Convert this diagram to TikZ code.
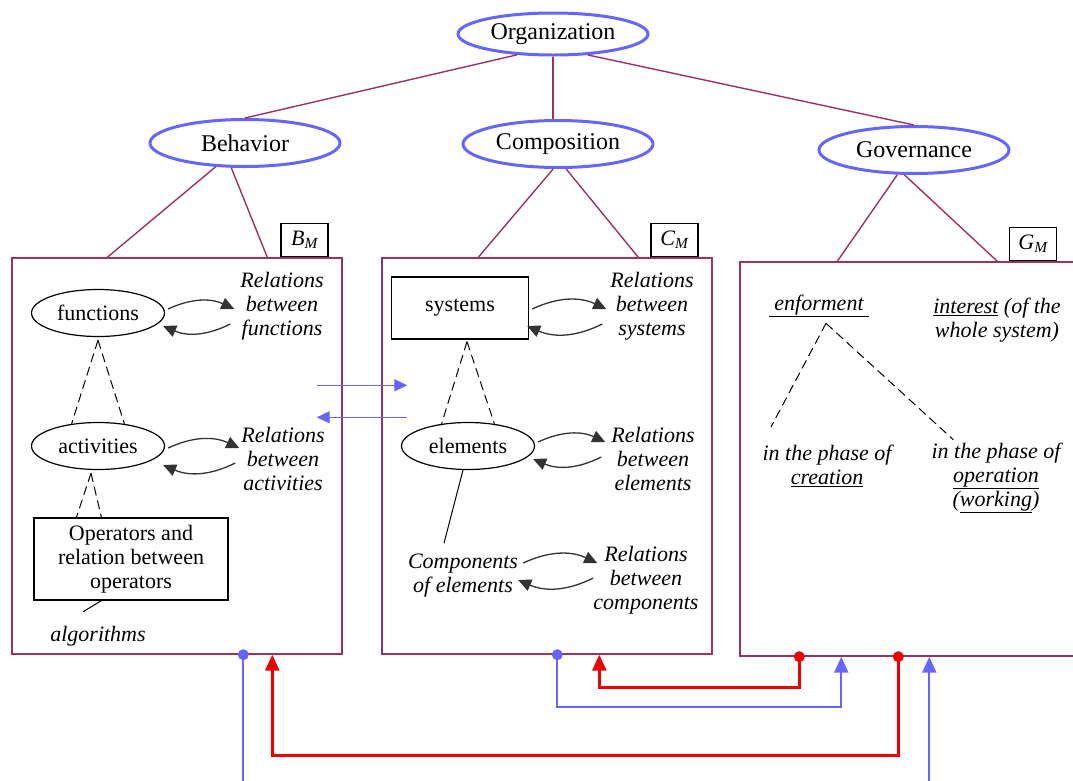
\documentclass[tikz,border=0pt]{standalone}
\usepackage{fontspec}
\setmainfont{Liberation Serif}
\usetikzlibrary{shapes.geometric, arrows.meta, calc, positioning}
\definecolor{topblue}{HTML}{6666FF}
\definecolor{framered}{HTML}{993366}
\definecolor{linkred}{HTML}{EE0000}
\definecolor{darkarrow}{HTML}{333333}
\newcommand{\bigfont}{\fontsize{24}{27}\selectfont}
\newcommand{\midfont}{\fontsize{22}{24}\selectfont}
\tikzset{
	topnode/.style={ellipse, draw=topblue, line width=3pt, minimum width=190pt, minimum height=42pt, inner sep=0pt, font=\bigfont}
}
\tikzset{
	modelframe/.style={draw=framered, line width=1.4pt, inner sep=0pt},
	treeline/.style={draw=framered, line width=1.4pt},
	modeltag/.style={draw, line width=1.5pt, minimum width=47pt, minimum height=33pt, inner sep=0pt, font=\midfont\itshape, anchor=south east}
}
\tikzset{
	itemell/.style={ellipse, draw, line width=1.2pt, minimum width=133pt, minimum height=47pt, inner sep=0pt, font=\midfont},
	itembox/.style={rectangle, draw, line width=1.2pt, inner sep=0pt, font=\midfont, align=center},
	note/.style={align=center, font=\midfont\itshape, inner sep=2pt},
	relarrow/.style={-{Triangle[length=13pt,width=12pt]}, draw=darkarrow, line width=1.3pt},
	partline/.style={dash pattern=on 9pt off 5pt, line width=1pt},
	hairline/.style={line width=1pt},
	flowarrow/.style={-{Triangle[length=13pt,width=12pt]}, draw=topblue, line width=1.3pt},
	flowblue/.style={draw=topblue, line width=2pt},
	flowred/.style={draw=linkred, line width=2.5pt},
	flowtip/.style={-{Triangle[length=16pt,width=14pt]}}
}
\newcommand{\relpair}[4]{%
  \draw[relarrow] ($(#1.east)+(3,#3)$) to[bend left=25] ($(#2.west |- #1.east)+(#4,#3)$);
  \draw[relarrow] ($(#2.west |- #1.east)+(#4-4,#3+15)$) to[bend left=25] ($(#1.east)+(-2,#3+17)$);}

\begin{document}
\begin{tikzpicture}[x=1pt, y=-1pt]
  \useasboundingbox (0,0) rectangle (1073,780);
  \node[topnode] (org) at (553,34) {Organization};
  \foreach \n/\t/\x/\y in {beh/Behavior/245/143, comp/Composition/558/144, gov/Governance/914/150}
    \node[topnode, minimum height=47pt] (\n) at (\x,\y) {\t};

  \node[modelframe, minimum width=330pt, minimum height=396pt] (bframe) at (177,456) {};
  \node[modelframe, minimum width=330pt, minimum height=396pt] (cframe) at (547,456) {};
  \node[modelframe, minimum width=370pt, minimum height=394pt] (gframe) at (925,459) {};

  \draw[treeline] (org.210) -- (beh.north);
  \draw[treeline] (org.south) -- (org.south |- comp.north);
  \draw[treeline] (org.-31) -- (gov.north);
  \foreach \s/\a/\f/\d in {beh/219/bframe/96, beh/241/bframe/256, comp/259/cframe/97, comp/288/cframe/257, gov/236/gframe/98, gov/249/gframe/258}
    \draw[treeline] (\s.\a) -- ($(\f.north west)+(\d,0)$);

  \node[modeltag] (btag) at ($(bframe.north east)+(-14,0)$) {B\textsubscript{M}};
  \node[modeltag] (ctag) at ($(cframe.north east)+(-14,0)$) {C\textsubscript{M}};
  \node[modeltag] (gtag) at ($(gframe.north west)+(318,0)$) {G\textsubscript{M}};

  \node[itemell] (func) at (98,313) {functions};
  \node[itemell] (act) at (98,446) {activities};
  \node[itembox, minimum width=194pt, minimum height=82pt] (ops) at (131,559) {Operators and\\relation between\\operators};
  \node[note] (alg) at (98,636) {algorithms};
  \node[note] (fnote) at (282,306) {Relations\\between\\functions};
  \node[note] (anote) at (283,459) {Relations\\between\\activities};

  \node[itembox, minimum width=137pt, minimum height=62pt] (sys) at (460,308) {systems};
  \node[itemell] (elem) at (468,446) {elements};
  \node[note] (comps) at (463,576) {Components\\of elements};
  \node[note] (snote) at (652,306) {Relations\\between\\systems};
  \node[note] (enote) at (653,459) {Relations\\between\\elements};
  \node[note] (cnote) at (646,580) {Relations\\between\\components};

  \node[note] (enf) at (819,306) {\underline{\ enforment\ }};
  \node[note] (inter) at (997,320) {\underline{interest} (of the\\whole system)};
  \node[note] (create) at (827,466) {in the phase of\\\underline{creation}};
  \node[note] (oper) at (996,478) {in the phase of\\\underline{operation}\\(\underline{working})};

  \draw[partline] ($(func.south)+(0,3)$) -- (act.140);
  \draw[partline] ($(func.south)+(0,3)$) -- (act.40);
  \draw[partline] ($(act.south)+(-7,3)$) -- ($(ops.north west)+(43,0)$);
  \draw[partline] ($(act.south)+(-7,3)$) -- ($(ops.north west)+(68,0)$);
  \draw[hairline] ($(ops.south west)+(68,0)$) -- ($(alg.north)+(-15,-12)$);
  \draw[partline] ($(sys.south)+(7,2)$) -- (elem.140);
  \draw[partline] ($(sys.south)+(7,2)$) -- (elem.40);
  \draw[hairline] ($(elem.south)+(-5,0)$) -- ($(comps.north)+(-19,-9)$);
  \draw[partline] ($(enf.south)+(7,4)$) -- ($(create.north)+(-56,-16)$);
  \draw[partline] ($(enf.south)+(7,4)$) -- ($(oper.north west)+(24,-1)$);

  \relpair{func}{fnote}{-4}{-4}
  \relpair{act}{anote}{2}{0}
  \relpair{sys}{snote}{1}{-2}
  \relpair{elem}{enote}{-4}{-4}
  \relpair{comps}{cnote}{-13}{6}

  \draw[flowarrow] ($(bframe.north east)+(-26,128)$) -- ($(cframe.north west)+(26,128)$);
  \draw[flowarrow] ($(cframe.north west)+(26,160)$) -- ($(bframe.north east)+(-26,160)$);

  \coordinate (bdot) at ($(bframe.south west)+(232,0)$);
  \coordinate (bin) at ($(bframe.south west)+(261,0)$);
  \coordinate (cdot) at ($(cframe.south west)+(176,0)$);
  \coordinate (cin) at ($(cframe.south west)+(218,0)$);
  \coordinate (gdot1) at ($(gframe.south west)+(60,0)$);
  \coordinate (gin1) at ($(gframe.south west)+(102,0)$);
  \coordinate (gdot2) at ($(gframe.south west)+(159,0)$);
  \coordinate (gin2) at ($(gframe.south west)+(190,0)$);

  \draw[flowred, flowtip] (gdot2) -- ++(0,99) -| (bin);
  \draw[flowblue, flowtip] (cdot) -- ++(0,52) -| (gin1);
  \draw[flowred, flowtip] (gdot1) -- ++(0,31) -| (cin);
  \draw[flowblue] (bdot) -- ++(0,140);
  \draw[flowblue, flowtip] ($(gin2)+(0,134)$) -- (gin2);
  \foreach \p/\c in {bdot/topblue, cdot/topblue, gdot1/linkred, gdot2/linkred}
    \fill[\c] (\p) circle (5.5pt);
\end{tikzpicture}
\end{document}
